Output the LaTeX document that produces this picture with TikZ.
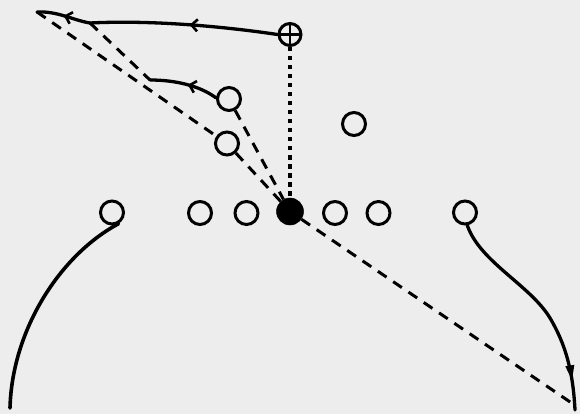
\documentclass[tikz,border=0pt]{standalone}
\usetikzlibrary{arrows.meta,decorations.markings}
\definecolor{bg}{RGB}{237,237,237}
\begin{document}
\begin{tikzpicture}[x=1pt,y=-1pt,
  man/.style={circle,draw,line width=3pt,minimum size=23pt,inner sep=0pt},
  ballman/.style={circle,fill=black,draw,line width=0.5pt,minimum size=27pt,inner sep=0pt},
  qb/.style={man,minimum size=22pt,path picture={\draw[line width=2.4pt] (path picture bounding box.north) -- (path picture bounding box.south) (path picture bounding box.west) -- (path picture bounding box.east);}},
  route/.style={line width=3.3pt,line cap=round},
  pass/.style={line width=3pt,dash pattern=on 10.5pt off 8pt},
  dotline/.style={line width=4pt,dash pattern=on 4.5pt off 4.5pt},
  chev/.style={postaction={decorate},decoration={markings,mark=at position #1 with {\arrow{Straight Barb[length=6pt,width=12pt,line width=2.6pt]}}}},
  tipdown/.style={postaction={decorate},decoration={markings,mark=at position #1 with {\arrow{Triangle[length=16pt,width=8pt]}}}}
]
\fill[bg] (0,0) rectangle (580,414);
\useasboundingbox (0,0) rectangle (580,414);

% players
\node[qb] (q) at (290,34.5) {};
\node[man] (a) at (229,99) {};
\node[man] (b) at (227,143.5) {};
\node[man] (c) at (354,124) {};
\node[man] (l) at (112,212.5) {};
\node[man] (g1) at (200,213) {};
\node[man] (g2) at (246.5,213) {};
\node[ballman] (ball) at (290,211.5) {};
\node[man] (g3) at (335,213) {};
\node[man] (g4) at (378.5,213) {};
\node[man] (r) at (465,212.5) {};

% free ends
\coordinate (k1) at (90,23);
\coordinate (tip) at (37,12);
\coordinate (k2) at (150,80);
\coordinate (far) at (576,406);
\coordinate (lend) at (10,408);
\coordinate (rend) at (575,410);

% routes
\draw[route,chev=0.47] (q.west) .. controls (220,26) and (150,20) .. (k1);
\draw[route,chev=0.5] (k1) .. controls (72,20) and (58,11) .. (tip);
\draw[route,chev=0.45] (a.175) .. controls (200,86) and (176,80) .. (k2);

% passes
\draw[pass] (tip) -- (b);
\draw[pass] (b) -- (ball);
\draw[pass] (ball) -- (far);
\draw[pass] (k1) -- (k2);
\draw[pass] (a) -- (ball);
\draw[dotline] (q) -- (ball);

% end runs
\draw[route,line width=3.6pt] (l.-60) .. controls (60,255) and (12,330) .. (lend);
\draw[route,tipdown=0.87] (r.-80) .. controls (480,262) and (530,285) .. (550,318) .. controls (566,345) and (573,372) .. (rend);
\end{tikzpicture}
\end{document}
